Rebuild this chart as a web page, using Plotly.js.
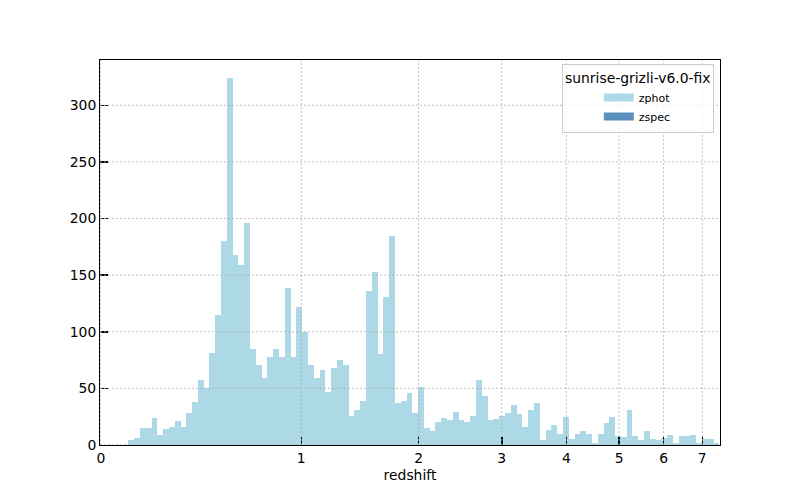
<!DOCTYPE html>
<html>
<head>
<meta charset="utf-8">
<script src="https://cdn.plot.ly/plotly-3.0.1.min.js"></script>
<style>html,body{margin:0;padding:0;background:#fff;}#chart{width:800px;height:500px;}</style>
</head>
<body>
<div id="chart"></div>
<script>
// Histogram of photometric redshifts, bins uniform in log10(1+z)
const binStartZ = 0.1;          // lower edge of first bin (redshift)
const binWidthLog = 0.0087;     // bin width in log10(1+z)
const zphotCounts = [4,6,15,15,24,9,14,16,21,16,
  28,38,57,50,81,115,180,324,168,159,
  196,85,71,59,78,85,78,139,78,122,
  100,71,59,66,47,68,75,71,26,31,
  39,136,153,80,131,185,37,39,46,28,
  51,15,12,20,24,22,29,22,20,26,
  57,43,22,23,26,28,35,27,16,31,
  37,4,13,18,10,25,5,10,12,10,
  2,10,19,25,8,7,31,8,4,12,
  5,4,6,9,2,8,8,9,2,5,
  5,2];
const zspecCounts = [];
const seriesNames = ['zphot', 'zspec'];
const seriesColors = ['#add8e6', '#5a8fbe'];
const xTickZ = [0,1,2,3,4,5,6,7];
const xTickText = ['0','1','2','3','4','5','6','7'];
const yTickVals = [0,50,100,150,200,250,300];

const s0 = Math.log10(1 + binStartZ);
const centersOf = arr => arr.map((_, i) => s0 + (i + 0.5) * binWidthLog);

const traces = [
  {type:'bar', name:seriesNames[0], x:centersOf(zphotCounts), y:zphotCounts, width:binWidthLog,
   marker:{color:seriesColors[0], line:{width:0}}, hoverinfo:'skip', showlegend:false},
  {type:'bar', name:seriesNames[1], x:centersOf(zspecCounts), y:zspecCounts, width:binWidthLog,
   marker:{color:seriesColors[1], line:{width:0}}, hoverinfo:'skip', showlegend:false}
];
// legend patches
seriesNames.forEach((n, i) => traces.push({
  type:'scatter', mode:'lines', name:n, x:[null], y:[null],
  line:{color:seriesColors[i], width:8}, hoverinfo:'skip', showlegend:true
}));

const xTickPos = xTickZ.map(z => Math.log10(1 + z));
const gridStyle = {color:'#b0b0b0', width:0.8, dash:'2px,2px'};
const shapes = [];
xTickPos.forEach(v => shapes.push({type:'line', layer:'above', xref:'x', yref:'paper', x0:v, x1:v, y0:0, y1:1, line:gridStyle}));
yTickVals.forEach(v => shapes.push({type:'line', layer:'above', xref:'paper', yref:'y', x0:0, x1:1, y0:v, y1:v, line:gridStyle}));

const fam = 'DejaVu Sans, sans-serif';
const layout = {
  width:800, height:500,
  margin:{l:100, r:80, t:60, b:55},
  paper_bgcolor:'#fff', plot_bgcolor:'#fff',
  font:{family:fam, size:13.9, color:'#000'},
  barmode:'overlay', bargap:0,
  showlegend:true,
  shapes:shapes,
  xaxis:{
    range:[-0.0012, 0.9297],
    tickvals:xTickPos,
    ticktext:xTickText,
    ticks:'inside', ticklen:8, tickwidth:1.5, tickcolor:'#000',
    showline:true, mirror:true, linecolor:'#000', linewidth:1,
    showgrid:false, zeroline:false, layer:'above traces',
    tickfont:{family:fam, size:13.9, color:'#000'},
    title:{text:'redshift', font:{family:fam, size:13.9, color:'#000'}, standoff:5}
  },
  yaxis:{
    range:[0, 340],
    tickvals:yTickVals,
    ticks:'inside', ticklen:8, tickwidth:1.5, tickcolor:'#000',
    showline:true, mirror:true, linecolor:'#000', linewidth:1,
    showgrid:false, zeroline:false, layer:'above traces',
    tickfont:{family:fam, size:13.9, color:'#000'}
  },
  legend:{
    x:0.99, y:0.99, xanchor:'right', yanchor:'top',
    bgcolor:'rgba(255,255,255,0.8)', bordercolor:'#cccccc', borderwidth:1,
    font:{family:fam, size:11, color:'#000'},
    indentation:36,
    tracegroupgap:0,
    title:{text:'sunrise-grizli-v6.0-fix', side:'top center', font:{family:fam, size:13.9, color:'#000'}},
    traceorder:'normal'
  }
};

Plotly.newPlot('chart', traces, layout, {staticPlot:true, displayModeBar:false});
</script>
</body>
</html>
